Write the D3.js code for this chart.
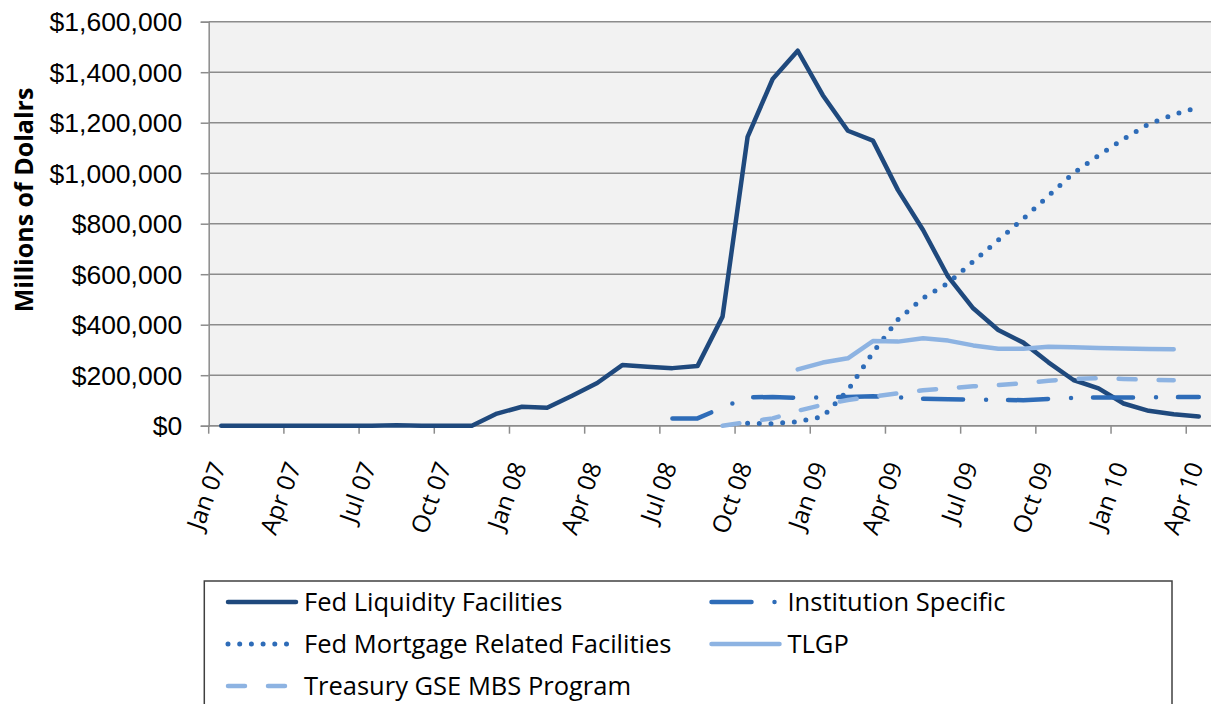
<!DOCTYPE html>
<meta charset="utf-8">
<style>
body { margin: 0; background: #fff; }
svg { font-family: "Open Sans", sans-serif; }
.grid line { stroke: #8c8c8c; stroke-width: 1.5; }
.axis path, .axis line { stroke: #8c8c8c; stroke-width: 1.5; }
.series { fill: none; stroke-linejoin: round; stroke-linecap: round; }
</style>
<svg width="1211" height="704"></svg>
<script src="https://d3js.org/d3.v7.min.js"></script>
<script>

var months = ["Jan 07","Feb 07","Mar 07","Apr 07","May 07","Jun 07","Jul 07","Aug 07","Sep 07","Oct 07","Nov 07","Dec 07",
  "Jan 08","Feb 08","Mar 08","Apr 08","May 08","Jun 08","Jul 08","Aug 08","Sep 08","Oct 08","Nov 08","Dec 08",
  "Jan 09","Feb 09","Mar 09","Apr 09","May 09","Jun 09","Jul 09","Aug 09","Sep 09","Oct 09","Nov 09","Dec 09",
  "Jan 10","Feb 10","Mar 10","Apr 10"];

var tickMonths = ["Jan 07","Apr 07","Jul 07","Oct 07","Jan 08","Apr 08","Jul 08","Oct 08","Jan 09","Apr 09","Jul 09","Oct 09","Jan 10","Apr 10"];
var yTicks = [0, 200000, 400000, 600000, 800000, 1000000, 1200000, 1400000, 1600000];

// millions of dollars, one value per month, null = no data
var fedLiquidity = [0,0,0,0,0,0,0,2000,0,0,0,48000,
  75000,71000,119000,169000,240000,233000,228000,236000,432000,1144000,1373000,1485000,
  1309000,1168000,1129000,933000,775000,590000,465000,379000,329000,251000,181000,148000,
  88000,59000,45000,36000];

var institutionSpecific = [null,null,null,null,null,null,null,null,null,null,null,null,
  null,null,null,null,null,null,29000,29000,72000,112000,114000,110000,
  112000,114000,117000,112000,107000,105000,103000,102000,101000,106000,110000,112000,
  112000,112000,113000,114000];

var fedMortgage = [null,null,null,null,null,null,null,null,null,null,null,null,
  null,null,null,null,null,null,null,null,null,10000,8000,16000,
  36000,140000,290000,420000,505000,565000,650000,735000,820000,910000,1000000,1070000,
  1135000,1195000,1232000,1262000];

var tlgp = [null,null,null,null,null,null,null,null,null,null,null,null,
  null,null,null,null,null,null,null,null,null,null,null,223000,
  250000,267000,335000,333000,346000,337000,318000,305000,305000,313000,311000,308000,
  306000,304000,303000,null];

var treasuryGse = [null,null,null,null,null,null,null,null,null,null,null,null,
  null,null,null,null,null,null,null,null,0,15000,29000,59000,
  83000,102000,115000,128000,140000,148000,156000,161000,168000,178000,185000,188000,
  185000,182000,180000,null];

var series = [
  {name: "Fed Liquidity Facilities", values: fedLiquidity, color: "#1f497d", width: 4.5, dash: null},
  {name: "Institution Specific", values: institutionSpecific, color: "#2e6cb8", width: 4.5, dash: "40 23 0 22"},
  {name: "Fed Mortgage Related Facilities", values: fedMortgage, color: "#2e6cb8", width: 5, dash: "0 11.7"},
  {name: "TLGP", values: tlgp, color: "#8db3e2", width: 4.5, dash: null},
  {name: "Treasury GSE MBS Program", values: treasuryGse, color: "#8db3e2", width: 4.5, dash: "17 23"}
];

var svg = d3.select("svg");
var plotLeft = 208.7, plotRight = 1211.3, plotTop = 21.7, plotBottom = 425.7;

var x = d3.scaleBand().domain(months).range([plotLeft, plotRight]).padding(0);
var y = d3.scaleLinear().domain([0, 1600000]).range([plotBottom, plotTop]);
var cx = function(m) { return x(m) + x.bandwidth() / 2; };

svg.append("rect")
    .attr("x", plotLeft).attr("y", plotTop)
    .attr("width", plotRight - plotLeft).attr("height", plotBottom - plotTop)
    .attr("fill", "#f2f2f2");

svg.append("g")
    .attr("class", "grid")
  .selectAll("line")
  .data(yTicks)
  .enter().append("line")
    .attr("x1", plotLeft).attr("x2", plotRight)
    .attr("y1", function(d) { return y(d); })
    .attr("y2", function(d) { return y(d); });

// y axis
var yAxis = svg.append("g")
    .attr("class", "axis")
    .attr("transform", "translate(" + plotLeft + ",0)")
    .call(d3.axisLeft(y).tickValues(yTicks).tickFormat(d3.format("$,")).tickSize(8).tickPadding(18.5));
yAxis.selectAll("text")
    .attr("fill", "#000")
    .style("font-size", "26.5px")
    .attr("dy", "0.35em");

// x axis
svg.append("line")
    .attr("x1", plotLeft).attr("x2", plotRight)
    .attr("y1", plotBottom).attr("y2", plotBottom)
    .attr("stroke", "#8c8c8c").attr("stroke-width", 1.5);

svg.append("g")
    .selectAll("line")
    .data(tickMonths)
    .enter().append("line")
      .attr("x1", function(d) { return x(d); })
      .attr("x2", function(d) { return x(d); })
      .attr("y1", plotBottom).attr("y2", plotBottom + 8)
      .attr("stroke", "#8c8c8c").attr("stroke-width", 1.5);

svg.append("g")
    .selectAll("text")
    .data(tickMonths)
    .enter().append("text")
      .attr("transform", function(d) { return "translate(" + (cx(d) + 5) + "," + 466 + ") rotate(-70)"; })
      .attr("text-anchor", "end")
      .style("font-size", "24.5px")
      .text(function(d) { return d; });

// y title
svg.append("text")
    .attr("transform", "translate(33,200) rotate(-90)")
    .attr("text-anchor", "middle")
    .style("font-size", "25px")
    .style("font-weight", "bold")
    .text("Millions of Dolalrs");

// lines
var line = d3.line()
    .defined(function(d) { return d.v !== null; })
    .x(function(d) { return cx(d.m); })
    .y(function(d) { return y(d.v); });

svg.append("g")
  .selectAll("path")
  .data(series)
  .enter().append("path")
    .attr("class", "series")
    .attr("stroke", function(d) { return d.color; })
    .attr("stroke-width", function(d) { return d.width; })
    .attr("stroke-dasharray", function(d) { return d.dash; })
    .attr("d", function(d) {
      return line(months.map(function(m, i) { return {m: m, v: d.values[i]}; }));
    });

// legend
var legend = svg.append("g");
legend.append("rect")
    .attr("x", 204.3).attr("y", 581)
    .attr("width", 967.7).attr("height", 160)
    .attr("fill", "#fff")
    .attr("stroke", "#404040").attr("stroke-width", 1.5);

var legendPos = [
  {x: 228, y: 602}, {x: 711.5, y: 602},
  {x: 228, y: 644}, {x: 711.5, y: 644},
  {x: 228, y: 686}
];

var items = legend.selectAll(".item")
  .data(series)
  .enter().append("g")
    .attr("class", "item")
    .attr("transform", function(d, i) { return "translate(" + legendPos[i].x + "," + legendPos[i].y + ")"; });

items.append("line")
    .attr("x1", 0).attr("x2", 68)
    .attr("stroke", function(d) { return d.color; })
    .attr("stroke-width", function(d) { return d.width; })
    .attr("stroke-linecap", "round")
    .attr("stroke-dasharray", function(d) { return d.dash; });

items.append("text")
    .attr("x", 76)
    .attr("dy", "0.35em")
    .style("font-size", "25.5px")
    .text(function(d) { return d.name; });

</script>
